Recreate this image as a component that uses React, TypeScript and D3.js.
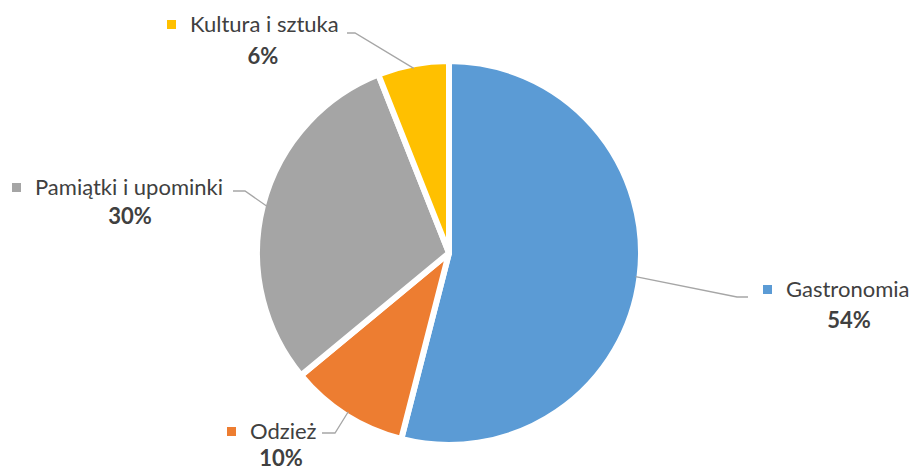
import React from "react";
import * as d3 from "d3";

const categories = ["Gastronomia", "Odzież", "Pamiątki i upominki", "Kultura i sztuka"];
const values = [54, 10, 30, 6];
const labels = ["54%", "10%", "30%", "6%"];
const colors = ["#5B9BD5", "#ED7D31", "#A5A5A5", "#FFC000"];

const W = 914, H = 470;
const cx = 449, cy = 253, R = 192;

const layout = [
  { tx: 786, ty: 297, px: 849, py: 328, elbow: [737, 297], end: [748, 297] },
  { tx: 250, ty: 439, px: 281, py: 466, elbow: [335, 433], end: [322, 433] },
  { tx: 35, ty: 195, px: 130, py: 224, elbow: [245, 191], end: [233, 191] },
  { tx: 190, ty: 32, px: 263, py: 64, elbow: [355, 33], end: [347, 33] },
];

export default function App() {
  const pie = d3.pie<number>().value((d) => d).sort(null);
  const arcs = pie(values);
  const arc = d3.arc<d3.PieArcDatum<number>>().innerRadius(0).outerRadius(R);
  const font = "Lato, sans-serif";
  return (
    <svg width={W} height={H} style={{ position: "absolute", left: 0, top: 0 }}>
      <rect width={W} height={H} fill="#fff" />
      <g transform={`translate(${cx},${cy})`}>
        {arcs.map((a, i) => (
          <path key={i} d={arc(a) || ""} fill={colors[i]} stroke="#fff" strokeWidth={6} strokeLinejoin="round" />
        ))}
      </g>
      {arcs.map((a, i) => {
        const mid = (a.startAngle + a.endAngle) / 2;
        const r = R - 4;
        const sx = cx + r * Math.sin(mid);
        const sy = cy - r * Math.cos(mid);
        const L = layout[i];
        return (
          <polyline key={"l" + i} points={`${sx},${sy} ${L.elbow[0]},${L.elbow[1]} ${L.end[0]},${L.end[1]}`}
            fill="none" stroke="#A6A6A6" strokeWidth={1.3} />
        );
      })}
      {categories.map((c, i) => {
        const L = layout[i];
        return (
          <g key={"t" + i} fontFamily={font} fill="#404040">
            <rect x={L.tx - 23} y={L.ty - 12} width={9} height={9} fill={colors[i]} />
            <text x={L.tx} y={L.ty} fontSize={22}>{c}</text>
            <text x={L.px} y={L.py} textAnchor="middle" fontSize={22} fontWeight="bold">{labels[i]}</text>
          </g>
        );
      })}
    </svg>
  );
}
